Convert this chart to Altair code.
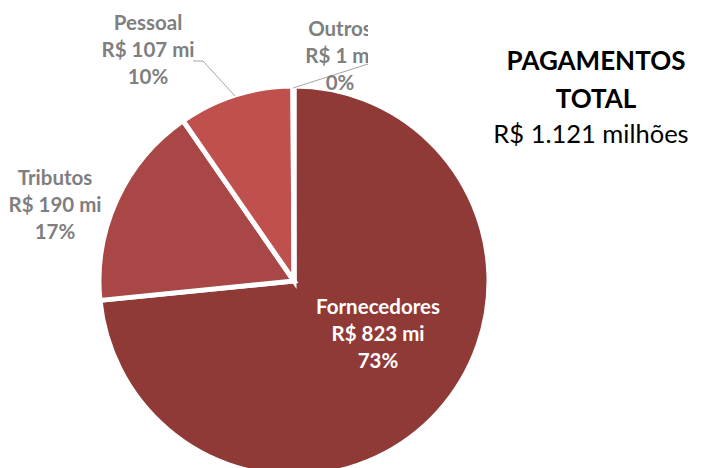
import altair as alt
import pandas as pd

categories = ["Fornecedores", "Tributos", "Pessoal", "Outros"]
values = [823, 190, 107, 1]
colors = ["#903A38", "#A84745", "#C0504D", "#8B3432"]
title_lines = ["PAGAMENTOS", "TOTAL", "R$ 1.121 milhões"]

total = sum(values)
pcts = [round(v * 100 / total) for v in values]
labels = [f"{c}\nR$ {v} mi\n{p}%" for c, v, p in zip(categories, values, pcts)]

df = pd.DataFrame({"cat": categories, "val": values, "order": list(range(len(categories))), "lbl": labels})

W, H = 687, 460
CX, CY, R = 286, 273, 193
FONT = "Lato"
GRAY = "#7F7F7F"

pie = alt.Chart(df).mark_arc(outerRadius=R + 2, stroke="white", strokeWidth=5).encode(
    theta=alt.Theta("val:Q", stack=True),
    color=alt.Color("cat:N", scale=alt.Scale(domain=categories, range=colors), legend=None),
    order=alt.Order("order:Q"),
    x=alt.value(CX),
    y=alt.value(CY),
)

def label(cat, x, y, color):
    return alt.Chart(df).transform_filter(alt.datum.cat == cat).mark_text(
        font=FONT, fontSize=20.5, fontWeight="bold", color=color, lineBreak="\n",
        lineHeight=27, align="center", baseline="middle"
    ).encode(text="lbl:N", x=alt.value(x), y=alt.value(y))

one = pd.DataFrame({"a": [0]})

def seg(x1, y1, x2, y2):
    return alt.Chart(one).mark_rule(color="#A6A6A6", strokeWidth=1).encode(
        x=alt.value(x1), y=alt.value(y1), x2=alt.value(x2), y2=alt.value(y2)
    )

mask = alt.Chart(one).mark_rect(color="white").encode(
    x=alt.value(360), x2=alt.value(480), y=alt.value(8), y2=alt.value(57)
)

def tline(txt, x, y, bold, size):
    return alt.Chart(one).mark_text(
        font=FONT, fontSize=size, fontWeight="bold" if bold else "normal", color="black",
        align="center", baseline="middle"
    ).encode(text=alt.value(txt), x=alt.value(x), y=alt.value(y))

chart = alt.layer(
    pie,
    seg(185, 53, 195, 53), seg(195, 53, 227, 88),
    seg(285, 80, 360, 56),
    label("Fornecedores", 370, 300, "white"),
    label("Tributos", 47, 171, GRAY),
    label("Pessoal", 140, 16, GRAY),
    label("Outros", 332, 22, GRAY),
    mask,
    tline(title_lines[0], 588, 54, True, 26),
    tline(title_lines[1], 588, 92, True, 26),
    tline(title_lines[2], 583, 127, False, 25.5),
).properties(
    width=W, height=H, padding=0, autosize=alt.AutoSizeParams(type="none")
).configure_view(stroke=None)

chart.save("out.html", embed_options={"renderer": "svg", "actions": False})
